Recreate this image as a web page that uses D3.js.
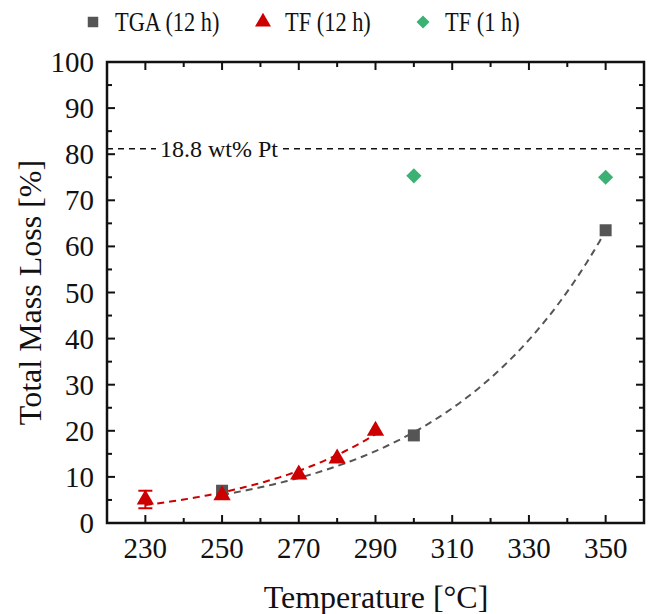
<!DOCTYPE html>
<html>
<head>
<meta charset="utf-8">
<script src="https://cdn.jsdelivr.net/npm/d3@7"></script>
<style>
  body { margin: 0; background: #fff; }
  svg text { font-family: "Liberation Serif", "Times New Roman", serif; fill: #111; }
</style>
</head>
<body>
<div id="chart"></div>
<script>
// measured values
var tgaTemp = [250, 300, 350];
var tgaLoss = [7, 19, 63.5];

var tf12Temp = [230, 250, 270, 280, 290];
var tf12Loss = [5.1, 6, 10.5, 14, 20];
var tf12Err  = [1.9, 0, 0, 0, 0];

var tf1Temp = [300, 350];
var tf1Loss = [75.3, 75];

var ptLine = 81.2; // 100 - 18.8 wt% Pt
var xTicks = [230, 250, 270, 290, 310, 330, 350];
var yTicks = [0, 10, 20, 30, 40, 50, 60, 70, 80, 90, 100];

var width = 652, height = 614;
var m = {left: 107, right: 8, top: 62, bottom: 91};

var svg = d3.select("#chart").append("svg")
  .attr("width", width).attr("height", height);

var x = d3.scaleLinear().domain([220, 360]).range([m.left, width - m.right]);
var y = d3.scaleLinear().domain([0, 100]).range([height - m.bottom, m.top]);

var colGray = "#555555", colRed = "#cc0000", colGreen = "#3bb273";

// exponential trend (weighted log-linear least squares)
function expFit(xs, ys) {
  var w = ys.map(function(v){ return v * v; });
  var sw = d3.sum(w);
  var mx = d3.sum(xs, function(v, i){ return w[i] * v; }) / sw;
  var ml = d3.sum(ys, function(v, i){ return w[i] * Math.log(v); }) / sw;
  var sxx = 0, sxy = 0;
  xs.forEach(function(v, i){
    sxx += w[i] * (v - mx) * (v - mx);
    sxy += w[i] * (v - mx) * (Math.log(ys[i]) - ml);
  });
  var b = sxy / sxx;
  return function(t){ return Math.exp(ml + b * (t - mx)); };
}

function fitLine(xs, ys, color) {
  var f = expFit(xs, ys);
  var pts = d3.range(0, 61).map(function(i){
    var t = xs[0] + (xs[xs.length - 1] - xs[0]) * i / 60;
    return [t, f(t)];
  });
  svg.append("path")
    .attr("d", d3.line().x(function(d){ return x(d[0]); }).y(function(d){ return y(d[1]); })(pts))
    .attr("fill", "none")
    .attr("stroke", color).attr("stroke-width", 2)
    .attr("stroke-dasharray", "7,5");
}

// 18.8 wt% Pt reference line
svg.append("line")
  .attr("x1", x(220)).attr("x2", x(360))
  .attr("y1", y(ptLine)).attr("y2", y(ptLine))
  .attr("stroke", "#111").attr("stroke-width", 1.5)
  .attr("stroke-dasharray", "6,5");
var ptLabel = svg.append("text")
  .attr("x", 160).attr("y", y(ptLine) + 8)
  .attr("font-size", 24)
  .text("18.8 wt% Pt");
var bb = ptLabel.node().getBBox();
svg.insert("rect", "text")
  .attr("x", bb.x - 4).attr("y", bb.y + 4).attr("width", bb.width + 8).attr("height", bb.height - 8)
  .attr("fill", "#fff");

fitLine(tgaTemp, tgaLoss, colGray);
fitLine(tf12Temp, tf12Loss, colRed);

// error bars
tf12Temp.forEach(function(t, i){
  var e = tf12Err[i];
  if (!e) return;
  var cx = x(t);
  svg.append("line").attr("x1", cx).attr("x2", cx)
    .attr("y1", y(tf12Loss[i] - e)).attr("y2", y(tf12Loss[i] + e))
    .attr("stroke", colRed).attr("stroke-width", 2);
  [tf12Loss[i] - e, tf12Loss[i] + e].forEach(function(v){
    svg.append("line").attr("x1", cx - 7).attr("x2", cx + 7)
      .attr("y1", y(v)).attr("y2", y(v))
      .attr("stroke", colRed).attr("stroke-width", 2);
  });
});

// markers
svg.selectAll(".tga").data(tgaTemp).enter().append("path")
  .attr("class", "tga")
  .attr("d", d3.symbol(d3.symbolSquare, 144))
  .attr("transform", function(d, i){ return "translate(" + x(d) + "," + y(tgaLoss[i]) + ")"; })
  .attr("fill", colGray);

svg.selectAll(".tf12").data(tf12Temp).enter().append("path")
  .attr("class", "tf12")
  .attr("d", d3.symbol(d3.symbolTriangle, 130))
  .attr("transform", function(d, i){ return "translate(" + x(d) + "," + y(tf12Loss[i]) + ")"; })
  .attr("fill", colRed);

svg.selectAll(".tf1").data(tf1Temp).enter().append("path")
  .attr("class", "tf1")
  .attr("d", d3.symbol(d3.symbolSquare, 115))
  .attr("transform", function(d, i){ return "translate(" + x(d) + "," + y(tf1Loss[i]) + ") rotate(45)"; })
  .attr("fill", colGreen);

// frame with inward ticks on all sides
var x0 = x.range()[0], x1 = x.range()[1], y0 = y.range()[0], y1 = y.range()[1];
var tickG = svg.append("g").attr("stroke", "#111").attr("stroke-width", 2);
d3.range(230, 360, 10).forEach(function(t){
  var len = xTicks.indexOf(t) >= 0 ? 8 : 5;
  tickG.append("line").attr("x1", x(t)).attr("x2", x(t)).attr("y1", y0).attr("y2", y0 - len);
  tickG.append("line").attr("x1", x(t)).attr("x2", x(t)).attr("y1", y1).attr("y2", y1 + len);
});
d3.range(5, 100, 5).forEach(function(v){
  var len = v % 10 === 0 ? 8 : 5;
  tickG.append("line").attr("x1", x0).attr("x2", x0 + len).attr("y1", y(v)).attr("y2", y(v));
  tickG.append("line").attr("x1", x1).attr("x2", x1 - len).attr("y1", y(v)).attr("y2", y(v));
});
svg.append("rect")
  .attr("x", x0).attr("y", y1).attr("width", x1 - x0).attr("height", y0 - y1)
  .attr("fill", "none").attr("stroke", "#111").attr("stroke-width", 2.5);

// tick labels
svg.selectAll(".xl").data(xTicks).enter().append("text")
  .attr("class", "xl")
  .attr("x", function(d){ return x(d); }).attr("y", y0 + 35)
  .attr("text-anchor", "middle").attr("font-size", 29)
  .text(function(d){ return d; });
svg.selectAll(".yl").data(yTicks).enter().append("text")
  .attr("class", "yl")
  .attr("x", x0 - 13).attr("y", function(d){ return y(d) + 10; })
  .attr("text-anchor", "end").attr("font-size", 29)
  .text(function(d){ return d; });

// axis titles
svg.append("text")
  .attr("x", 376).attr("y", 608)
  .attr("text-anchor", "middle").attr("font-size", 32)
  .text("Temperature [°C]");
svg.append("text")
  .attr("transform", "translate(41," + ((y0 + y1) / 2) + ") rotate(-90)")
  .attr("text-anchor", "middle").attr("font-size", 32)
  .text("Total Mass Loss [%]");

// legend
var legend = [
  {label: "TGA (12 h)", color: colGray, sym: d3.symbolSquare, size: 110, rot: 0, x: 93},
  {label: "TF (12 h)", color: colRed, sym: d3.symbolTriangle, size: 110, rot: 0, x: 263},
  {label: "TF (1 h)", color: colGreen, sym: d3.symbolSquare, size: 85, rot: 45, x: 423}
];
var lg = svg.selectAll(".lg").data(legend).enter().append("g")
  .attr("transform", function(d){ return "translate(" + d.x + ",22)"; });
lg.append("path")
  .attr("d", function(d){ return d3.symbol(d.sym, d.size)(); })
  .attr("transform", function(d){ return "rotate(" + d.rot + ")"; })
  .attr("fill", function(d){ return d.color; });
lg.append("text")
  .attr("transform", "translate(22,9) scale(0.8,1)")
  .attr("font-size", 28)
  .text(function(d){ return d.label; });
</script>
</body>
</html>
